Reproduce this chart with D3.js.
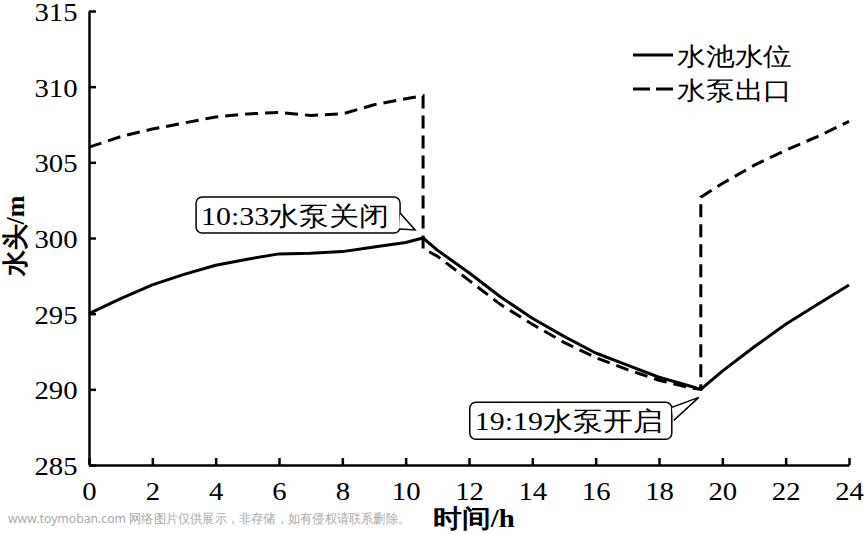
<!DOCTYPE html>
<html>
<head>
<meta charset="utf-8">
<script src="https://cdn.jsdelivr.net/npm/d3@7"></script>
<style>
  html, body { margin: 0; padding: 0; background: #fff; }
  svg { display: block; }
</style>
</head>
<body>
<script>
// ---- data ----
const poolTime  = [0, 1, 2, 3, 4, 5, 6, 7, 8, 9, 10, 10.55, 11, 12, 13, 14, 15, 16, 17, 18, 19, 19.32, 20, 21, 22, 23, 24];
const poolLevel = [295.0, 296.0, 296.9, 297.6, 298.2, 298.6, 298.95, 299.0, 299.1, 299.4, 299.7, 300.0, 299.2, 297.7, 296.1, 294.7, 293.5, 292.4, 291.6, 290.8, 290.2, 290.0, 291.2, 292.8, 294.3, 295.6, 296.9];

const pumpTime  = [0, 1, 2, 3, 4, 5, 6, 7, 8, 9, 10, 10.55, 10.55, 11, 12, 13, 14, 15, 16, 17, 18, 19, 19.32, 19.32, 20, 21, 22, 23, 24];
const pumpHead  = [306.0, 306.7, 307.2, 307.6, 308.0, 308.2, 308.3, 308.1, 308.2, 308.8, 309.2, 309.4, 299.3, 298.8, 297.2, 295.6, 294.3, 293.1, 292.1, 291.3, 290.6, 290.1, 290.0, 302.7, 303.6, 304.8, 305.8, 306.7, 307.7];

const xTicks = [0, 2, 4, 6, 8, 10, 12, 14, 16, 18, 20, 22, 24];
const yTicks = [285, 290, 295, 300, 305, 310, 315];

const seriesNames = ["水池水位", "水泵出口"];
const annoTimes  = [10.55, 19.32];
const annoValues = [300.0, 290.0];
const annoLabels = ["10:33水泵关闭", "19:19水泵开启"];

const xTitle = "时间/h";
const yTitle = "水头/m";
const watermark = "www.toymoban.com 网络图片仅供展示，非存储，如有侵权请联系删除。";

// ---- layout ----
const W = 865, H = 534;
const FONT = '"Liberation Serif"';
const SX = 1.15; // horizontal stretch of text seen in reference

const svg = d3.select("body").append("svg").attr("width", W).attr("height", H);

const x = d3.scaleLinear().domain([0, 24]).range([89, 849]);
const y = d3.scaleLinear().domain([285, 315]).range([465, 11]);

// axes
const xAxis = d3.axisBottom(x).tickValues(xTicks).tickFormat(d3.format("d"))
  .tickSizeInner(-7).tickSizeOuter(0).tickPadding(17);
const yAxis = d3.axisLeft(y).tickValues(yTicks).tickFormat(d3.format("d"))
  .tickSizeInner(-7).tickSizeOuter(0).tickPadding(10);

const gx = svg.append("g").attr("transform", `translate(0,${y(285)})`).call(xAxis);
const gy = svg.append("g").attr("transform", `translate(${x(0)},0)`).call(yAxis);

[gx, gy].forEach(g => {
  g.attr("font-family", null).attr("font-size", null);
  g.select(".domain").attr("stroke", "#000").attr("stroke-width", 2.5);
  g.selectAll(".tick line").attr("stroke", "#000").attr("stroke-width", 2.5);
  g.selectAll(".tick text")
    .attr("fill", "#000")
    .style("font-family", FONT)
    .style("font-size", "25px")
    .attr("transform", `scale(${SX},1)`);
});
gy.selectAll(".tick text").attr("dy", "0.38em");

// lines
const line = d3.line().x(d => x(d[0])).y(d => y(d[1]));
const poolData = poolTime.map((t, i) => [t, poolLevel[i]]);
const pumpData = pumpTime.map((t, i) => [t, pumpHead[i]]);

svg.append("path").datum(pumpData).attr("d", line)
  .attr("fill", "none").attr("stroke", "#000").attr("stroke-width", 3)
  .attr("stroke-dasharray", "13,7");
svg.append("path").datum(poolData).attr("d", line)
  .attr("fill", "none").attr("stroke", "#000").attr("stroke-width", 3)
  .attr("stroke-linejoin", "round");

// helper for stretched text
function stext(parent, tx, ty, str, size, anchor, weight) {
  return parent.append("text")
    .attr("transform", `translate(${tx},${ty}) scale(${SX},1)`)
    .attr("text-anchor", anchor || "start")
    .style("font-family", FONT)
    .style("font-size", size + "px")
    .style("font-weight", weight || "normal")
    .attr("fill", "#000")
    .text(str);
}

// legend
const lg = svg.append("g");
lg.append("line").attr("x1", 633).attr("x2", 673).attr("y1", 55).attr("y2", 55)
  .attr("stroke", "#000").attr("stroke-width", 3);
lg.append("line").attr("x1", 633).attr("x2", 673).attr("y1", 89).attr("y2", 89)
  .attr("stroke", "#000").attr("stroke-width", 3).attr("stroke-dasharray", "17,6");
stext(lg, 677, 65, seriesNames[0], 25);
stext(lg, 677, 99, seriesNames[1], 25);

// annotations (boxes offset from the point they describe)
const annoBoxes = [
  { dx: -227, dy: -41, w: 204, h: 36, tail: [[-23, -25], [-8, -8], [-24, -9]] },
  { dx: -231, dy: 13, w: 202, h: 37, tail: [[-29, 18], [-2, 8], [-27, 31]] }
];
annoTimes.forEach((t, i) => {
  const px = x(t), py = y(annoValues[i]);
  const b = annoBoxes[i];
  const g = svg.append("g");
  const bx = px + b.dx, by = py + b.dy;
  g.append("rect").attr("x", bx).attr("y", by).attr("width", b.w).attr("height", b.h)
    .attr("rx", 6).attr("fill", "#fff").attr("stroke", "#000").attr("stroke-width", 1.5);
  g.append("path")
    .attr("d", "M" + b.tail.map(p => [px + p[0], py + p[1]].join(",")).join("L"))
    .attr("fill", "#fff").attr("stroke", "#000").attr("stroke-width", 1.5);
  stext(g, bx + 5, by + 28, annoLabels[i], 26);
});

// axis titles
stext(svg, 474, 527, xTitle, 25, "middle", "bold");
svg.append("text")
  .attr("transform", `translate(24,236) rotate(-90)`)
  .attr("text-anchor", "middle")
  .style("font-family", FONT)
  .style("font-size", "26px")
  .style("font-weight", "bold")
  .attr("fill", "#000")
  .text(yTitle);

// watermark
svg.append("text")
  .attr("x", 8).attr("y", 523)
  .attr("textLength", 402).attr("lengthAdjust", "spacingAndGlyphs")
  .style("font-family", '"Noto Sans"')
  .style("font-size", "13px")
  .attr("fill", "#aaaaaa")
  .text(watermark);
</script>
</body>
</html>
